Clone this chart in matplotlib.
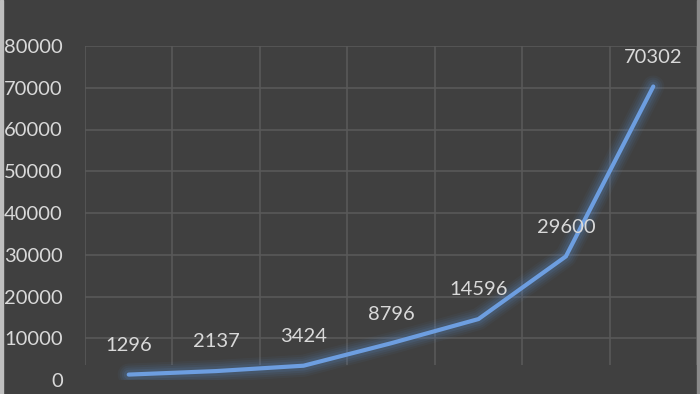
import matplotlib
matplotlib.use("Agg")
import matplotlib.pyplot as plt
from matplotlib.patches import Rectangle

categories = ["1", "2", "3", "4", "5", "6", "7"]
values = [1296, 2137, 3424, 8796, 14596, 29600, 70302]
yticks = [0, 10000, 20000, 30000, 40000, 50000, 60000, 70000, 80000]

BG = "#404040"
GRID = "#595959"
TXT = "#d9d9d9"
LINE = "#6d9ee0"

plt.rcParams['font.family'] = ['Lato', 'DejaVu Sans']

fig = plt.figure(figsize=(7.0, 3.94), dpi=100, facecolor=BG)
ax = fig.add_axes([85/700, 1-380/394, (697-85)/700, (380-46)/394])
ax.set_facecolor(BG)

x = list(range(len(categories)))
ax.set_xlim(-0.5, len(categories)-0.5)
ax.set_ylim(0, 80000)

# gridlines
for yv in yticks[1:]:
    ax.axhline(yv, color=GRID, lw=1.2, zorder=0)
for b in range(len(categories)+1):
    ax.vlines(b-0.5, 3500, 80000, color=GRID, lw=1.2, zorder=0)

# glow
for w, a in [(16, 0.05), (13, 0.07), (10, 0.09), (7, 0.13)]:
    ax.plot(x, values, color="#5b8fd6", lw=w, alpha=a, solid_capstyle='round',
            solid_joinstyle='round', zorder=2)
ax.plot(x, values, color=LINE, lw=3.0, solid_capstyle='round',
        solid_joinstyle='miter', zorder=3)

for xi, v in zip(x, values):
    ax.annotate(f"{v}", (xi, v), xytext=(0, 21), textcoords='offset points',
                ha='center', va='center', color=TXT, fontsize=14.5, zorder=4)

ax.set_yticks(yticks)
ax.set_yticklabels([str(t) for t in yticks])
ax.set_xticks([])
ax.tick_params(axis='y', length=0, pad=16, labelcolor=TXT, labelsize=14.5)
for s in ax.spines.values():
    s.set_visible(False)

# frame edges
fig.patches.append(Rectangle((0, 0), 3/700, 1, transform=fig.transFigure,
                             color="#bfbfbf", zorder=10))
fig.patches.append(Rectangle((697/700, 0), 3/700, 1, transform=fig.transFigure,
                             color="#8a8a8a", zorder=10))

fig.savefig("out.png", dpi=100, facecolor=BG)
